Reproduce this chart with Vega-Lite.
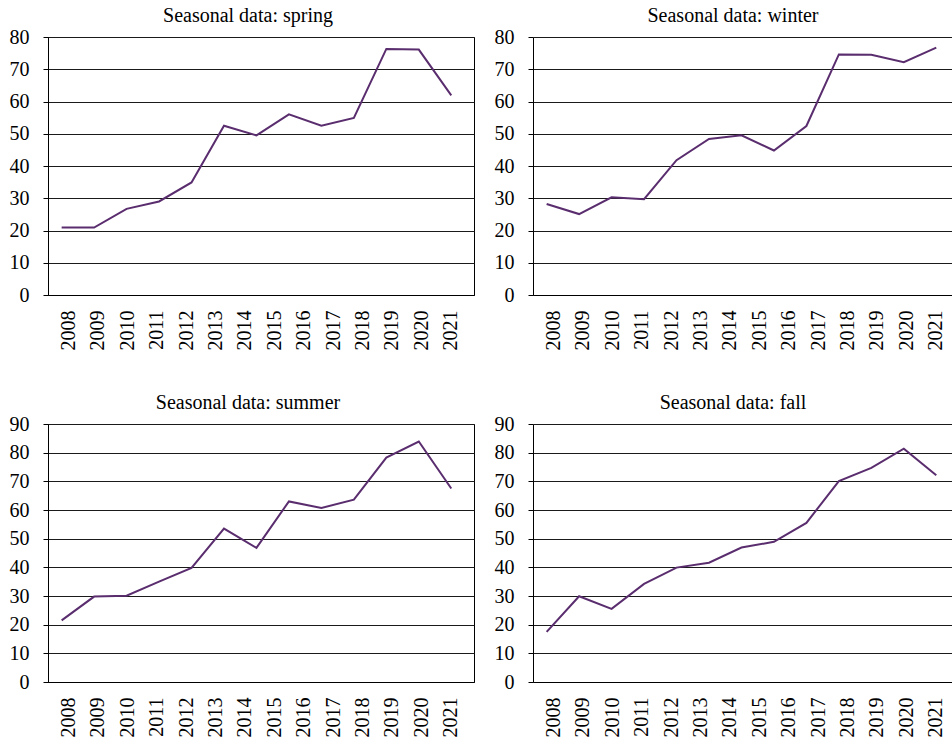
{
  "$schema": "https://vega.github.io/schema/vega-lite/v6.json",
  "padding": {"top": 5, "left": 8, "right": 0, "bottom": 0},
  "background": "white",
  "data": {
    "values": [
      {"season": "spring", "t": 0, "value": 20.9},
      {"season": "spring", "t": 1, "value": 20.9},
      {"season": "spring", "t": 2, "value": 26.7},
      {"season": "spring", "t": 3, "value": 29.0},
      {"season": "spring", "t": 4, "value": 34.9},
      {"season": "spring", "t": 5, "value": 52.5},
      {"season": "spring", "t": 6, "value": 49.5},
      {"season": "spring", "t": 7, "value": 56.0},
      {"season": "spring", "t": 8, "value": 52.5},
      {"season": "spring", "t": 9, "value": 54.9},
      {"season": "spring", "t": 10, "value": 76.3},
      {"season": "spring", "t": 11, "value": 76.1},
      {"season": "spring", "t": 12, "value": 61.9},
      {"season": "winter", "t": 0, "value": 28.2},
      {"season": "winter", "t": 1, "value": 25.1},
      {"season": "winter", "t": 2, "value": 30.3},
      {"season": "winter", "t": 3, "value": 29.7},
      {"season": "winter", "t": 4, "value": 41.8},
      {"season": "winter", "t": 5, "value": 48.4},
      {"season": "winter", "t": 6, "value": 49.5},
      {"season": "winter", "t": 7, "value": 44.8},
      {"season": "winter", "t": 8, "value": 52.4},
      {"season": "winter", "t": 9, "value": 74.6},
      {"season": "winter", "t": 10, "value": 74.5},
      {"season": "winter", "t": 11, "value": 72.2},
      {"season": "winter", "t": 12, "value": 76.7},
      {"season": "summer", "t": 0, "value": 21.5},
      {"season": "summer", "t": 1, "value": 29.8},
      {"season": "summer", "t": 2, "value": 30.1},
      {"season": "summer", "t": 3, "value": 35.0},
      {"season": "summer", "t": 4, "value": 39.8},
      {"season": "summer", "t": 5, "value": 53.5},
      {"season": "summer", "t": 6, "value": 46.8},
      {"season": "summer", "t": 7, "value": 63.0},
      {"season": "summer", "t": 8, "value": 60.7},
      {"season": "summer", "t": 9, "value": 63.6},
      {"season": "summer", "t": 10, "value": 78.3},
      {"season": "summer", "t": 11, "value": 83.9},
      {"season": "summer", "t": 12, "value": 67.5},
      {"season": "fall", "t": 0, "value": 17.5},
      {"season": "fall", "t": 1, "value": 29.9},
      {"season": "fall", "t": 2, "value": 25.5},
      {"season": "fall", "t": 3, "value": 34.2},
      {"season": "fall", "t": 4, "value": 39.9},
      {"season": "fall", "t": 5, "value": 41.6},
      {"season": "fall", "t": 6, "value": 46.9},
      {"season": "fall", "t": 7, "value": 48.9},
      {"season": "fall", "t": 8, "value": 55.5},
      {"season": "fall", "t": 9, "value": 70.1},
      {"season": "fall", "t": 10, "value": 74.7},
      {"season": "fall", "t": 11, "value": 81.4},
      {"season": "fall", "t": 12, "value": 72.1}
    ]
  },
  "spacing": 41,
  "vconcat": [
    {
      "spacing": 19,
      "hconcat": [
        {
          "title": {"text": "Seasonal data: spring", "dx": -13},
          "width": 426, "height": 258,
          "view": {"stroke": "black", "strokeWidth": 1},
          "transform": [{"filter": "datum.season === 'spring'"}],
          "mark": {"type": "line", "color": "#5a2d6e", "strokeWidth": 2},
          "encoding": {
            "x": {"field": "t", "type": "quantitative", "title": null,
                  "scale": {"domain": [-0.42, 12.7], "nice": false, "zero": false},
                  "axis": {"values": [0.21, 1.1155, 2.021, 2.9265, 3.832, 4.7375, 5.643, 6.5485, 7.454, 8.3595, 9.265, 10.1705, 11.076, 11.9815],
                           "labelExpr": "2008 + round((datum.value - 0.21) / 0.9055)"}},
            "y": {"field": "value", "type": "quantitative", "title": null,
                  "scale": {"domain": [0, 80], "nice": false},
                  "axis": {"values": [0, 10, 20, 30, 40, 50, 60, 70, 80]}}
          }
        },
        {
          "title": {"text": "Seasonal data: winter", "dx": -10},
          "width": 420, "height": 258,
          "view": {"stroke": null},
          "transform": [{"filter": "datum.season === 'winter'"}],
          "mark": {"type": "line", "color": "#5a2d6e", "strokeWidth": 2},
          "encoding": {
            "x": {"field": "t", "type": "quantitative", "title": null,
                  "scale": {"domain": [-0.42, 12.515], "nice": false, "zero": false},
                  "axis": {"values": [0.21, 1.1155, 2.021, 2.9265, 3.832, 4.7375, 5.643, 6.5485, 7.454, 8.3595, 9.265, 10.1705, 11.076, 11.9815],
                           "labelExpr": "2008 + round((datum.value - 0.21) / 0.9055)"}},
            "y": {"field": "value", "type": "quantitative", "title": null,
                  "scale": {"domain": [0, 80], "nice": false},
                  "axis": {"values": [0, 10, 20, 30, 40, 50, 60, 70, 80]}}
          }
        }
      ]
    },
    {
      "spacing": 19,
      "hconcat": [
        {
          "title": {"text": "Seasonal data: summer", "dx": -13},
          "width": 426, "height": 258,
          "view": {"stroke": "black", "strokeWidth": 1},
          "transform": [{"filter": "datum.season === 'summer'"}],
          "mark": {"type": "line", "color": "#5a2d6e", "strokeWidth": 2},
          "encoding": {
            "x": {"field": "t", "type": "quantitative", "title": null,
                  "scale": {"domain": [-0.42, 12.7], "nice": false, "zero": false},
                  "axis": {"values": [0.21, 1.1155, 2.021, 2.9265, 3.832, 4.7375, 5.643, 6.5485, 7.454, 8.3595, 9.265, 10.1705, 11.076, 11.9815],
                           "labelExpr": "2008 + round((datum.value - 0.21) / 0.9055)"}},
            "y": {"field": "value", "type": "quantitative", "title": null,
                  "scale": {"domain": [0, 90], "nice": false},
                  "axis": {"values": [0, 10, 20, 30, 40, 50, 60, 70, 80, 90]}}
          }
        },
        {
          "title": {"text": "Seasonal data: fall", "dx": -10},
          "width": 420, "height": 258,
          "view": {"stroke": null},
          "transform": [{"filter": "datum.season === 'fall'"}],
          "mark": {"type": "line", "color": "#5a2d6e", "strokeWidth": 2},
          "encoding": {
            "x": {"field": "t", "type": "quantitative", "title": null,
                  "scale": {"domain": [-0.42, 12.515], "nice": false, "zero": false},
                  "axis": {"values": [0.21, 1.1155, 2.021, 2.9265, 3.832, 4.7375, 5.643, 6.5485, 7.454, 8.3595, 9.265, 10.1705, 11.076, 11.9815],
                           "labelExpr": "2008 + round((datum.value - 0.21) / 0.9055)"}},
            "y": {"field": "value", "type": "quantitative", "title": null,
                  "scale": {"domain": [0, 90], "nice": false},
                  "axis": {"values": [0, 10, 20, 30, 40, 50, 60, 70, 80, 90]}}
          }
        }
      ]
    }
  ],
  "config": {
    "font": "Liberation Serif",
    "title": {"font": "Liberation Serif", "fontSize": 20, "fontWeight": "normal", "color": "black", "anchor": "middle", "offset": 1},
    "axis": {"labelFont": "Liberation Serif", "labelFontSize": 20, "labelColor": "black", "domainColor": "black", "domainWidth": 1, "tickColor": "black", "gridColor": "#1a1a1a", "gridWidth": 1},
    "axisX": {"grid": false, "ticks": false, "labelAngle": 270, "labelAlign": "right", "labelBaseline": "middle", "labelPadding": 15, "labelFlush": false, "labelOverlap": false},
    "axisY": {"grid": true, "ticks": true, "tickSize": 5, "labelPadding": 14, "labelFlush": false, "labelOverlap": false}
  }
}
